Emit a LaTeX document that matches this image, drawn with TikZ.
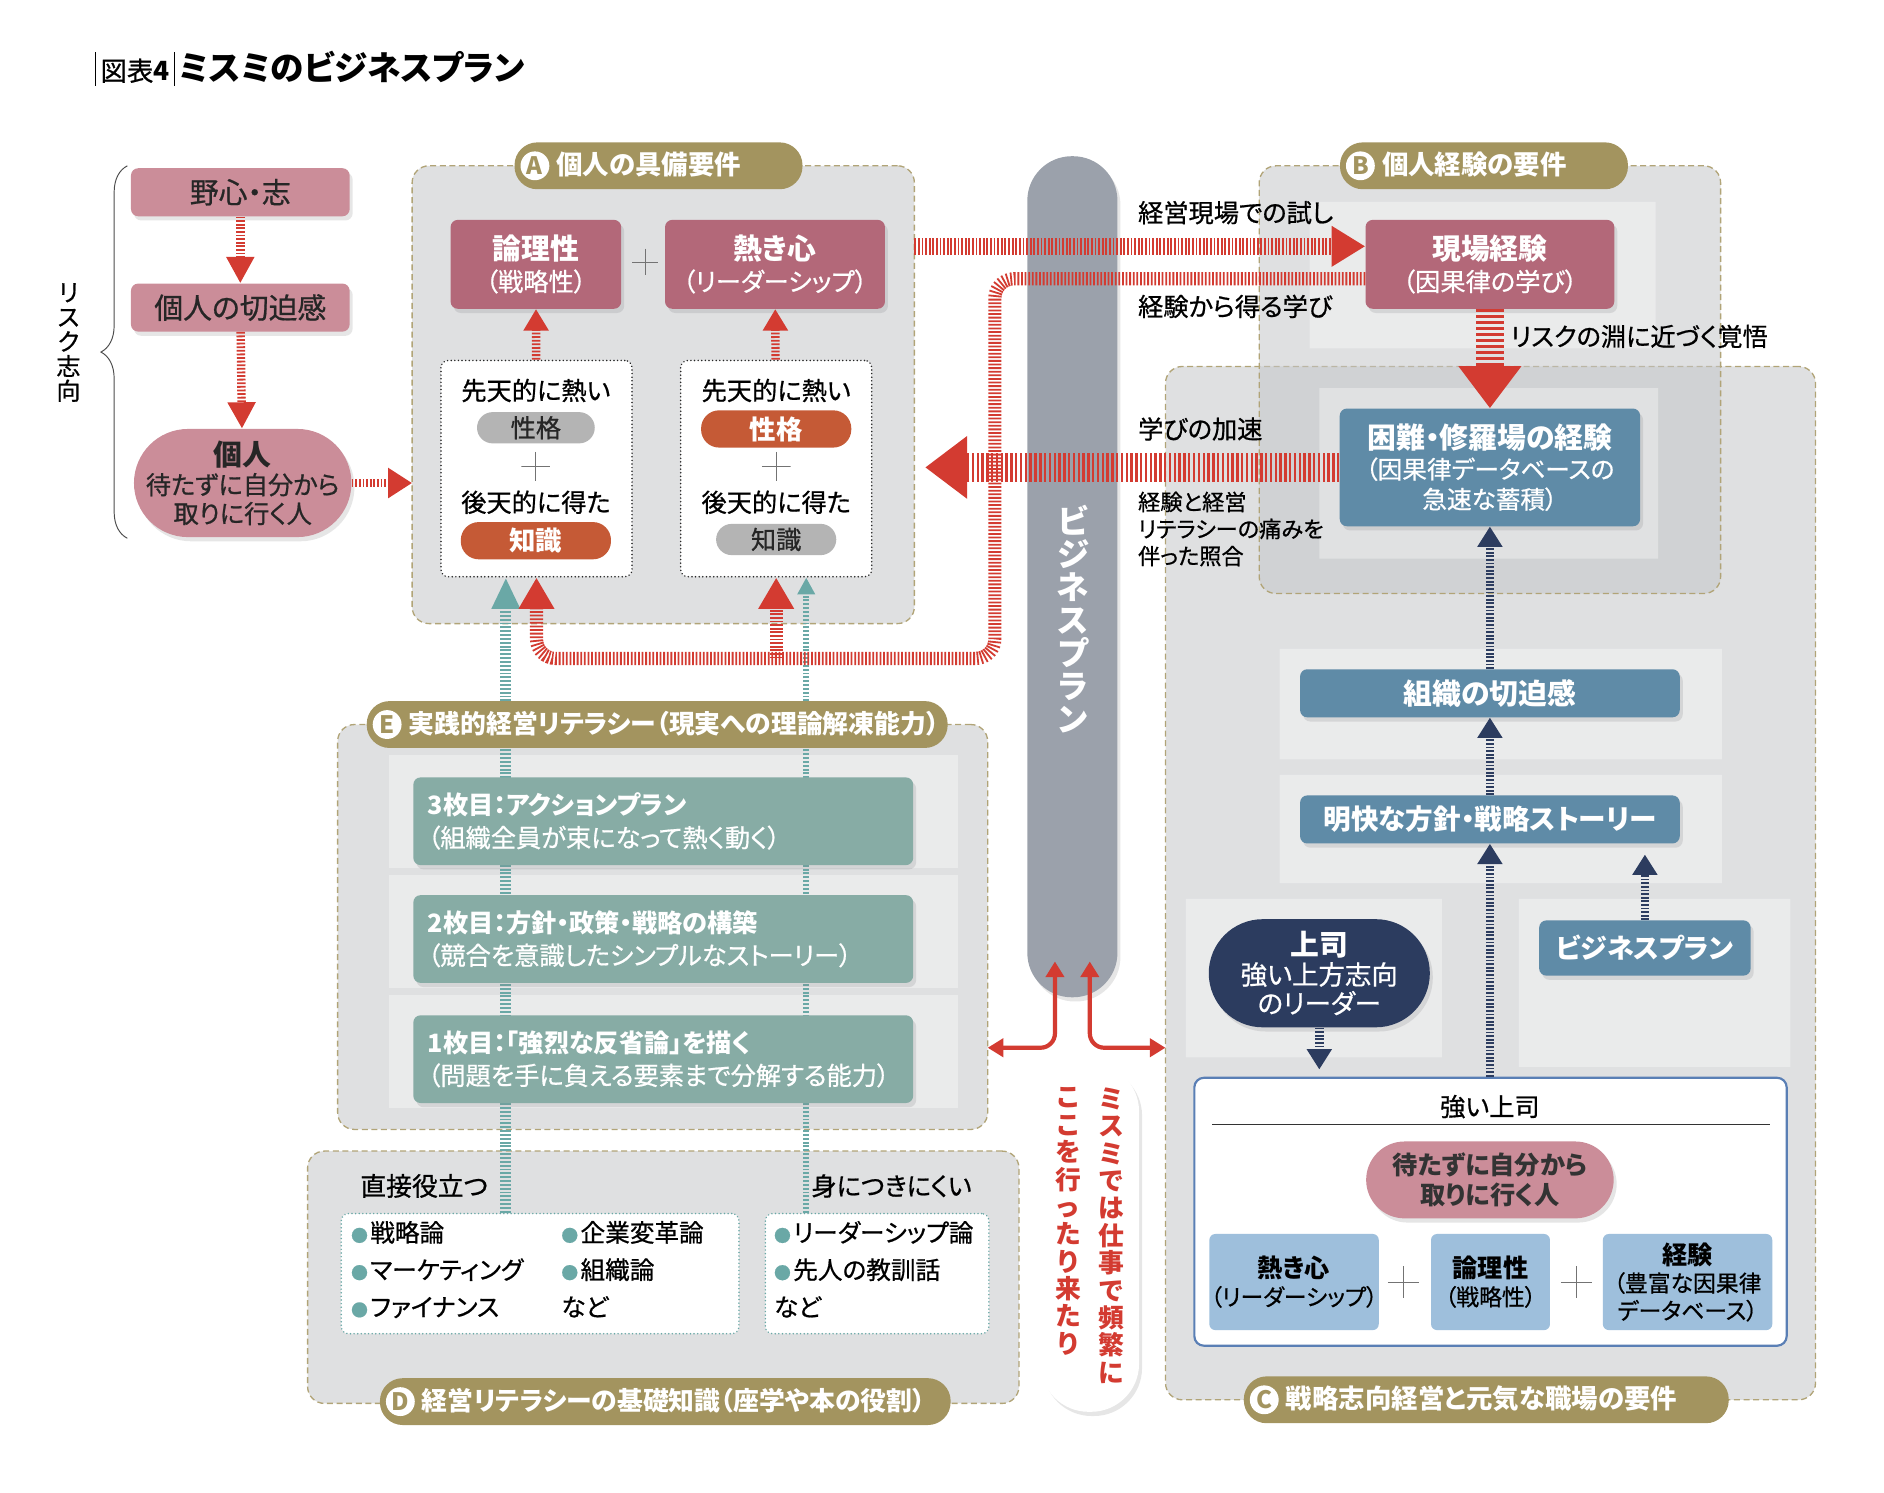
\documentclass[tikz,border=0pt]{standalone}
\usepackage{fontspec}
\setmainfont{Noto Sans CJK JP}[RawFeature=+palt, UprightFeatures={FakeBold=0.7}]
\usepackage{xcolor}
\usepackage{tikz}
\usetikzlibrary{positioning,arrows.meta,shadows,backgrounds,decorations.pathreplacing}
\definecolor{cpink}{HTML}{CB8D99}
\definecolor{crose}{HTML}{B36879}
\definecolor{colive}{HTML}{A3945F}
\definecolor{cbase}{HTML}{C4C6C9}
\definecolor{cpillar}{HTML}{9BA1AB}
\definecolor{csteel}{HTML}{5F8BA7}
\definecolor{cnavy}{HTML}{2C3C5F}
\definecolor{cteal}{HTML}{87ACA5}
\definecolor{csky}{HTML}{9EBFDC}
\definecolor{corange}{HTML}{C55A36}
\definecolor{cgrey}{HTML}{B4B4B4}
\definecolor{cred}{HTML}{D33B31}
\definecolor{cline}{HTML}{6AA8A6}
\definecolor{cframe}{HTML}{5A7FB5}
\newcommand{\badge}[1]{\tikz[baseline=(bd.base)]\node[circle,fill=white,text=colive,inner sep=0pt,minimum size=24pt,font=\fontsize{20}{20}\selectfont\bfseries] (bd) {#1};}
\newcommand{\bul}{{\fontsize{14}{14}\selectfont\textcolor{cline}{●}}\hspace{2pt}}

\begin{document}
\begin{tikzpicture}[x=1pt, y=-1pt,
  font=\fontsize{19}{23}\selectfont,
  shadowed/.style={drop shadow={shadow xshift=2.5pt, shadow yshift=-3.5pt, opacity=0.2}},
  panel/.style={draw=colive!85, dash pattern=on 5pt off 3pt, line width=1.1pt, fill=cbase, fill opacity=0.55, draw opacity=1, rounded corners=14pt, inner sep=0pt, outer sep=0pt},
  pill/.style={fill=colive, text=white, rounded corners=19pt, minimum height=39pt, inner xsep=5pt, inner ysep=0pt, anchor=west, font=\fontsize{22}{22}\selectfont\bfseries},
  pinkbox/.style={shadowed, fill=cpink, text=black!85, rounded corners=6pt, minimum width=182pt, minimum height=40pt, font=\fontsize{24}{26}\selectfont},
  rosebox/.style={shadowed, fill=crose, text=white, rounded corners=6pt, minimum height=74pt, align=center, inner sep=2pt, font=\fontsize{21}{26}\selectfont},
  steelbox/.style={shadowed, fill=csteel, text=white, rounded corners=6pt, align=center, inner sep=2pt, font=\fontsize{23}{26}\selectfont\bfseries},
  skybox/.style={fill=csky, rounded corners=5pt, minimum height=80pt, align=center, inner sep=1pt, font=\fontsize{19}{23}\selectfont},
  tealbox/.style={shadowed, fill=cteal, text=white, rounded corners=6pt, minimum height=73pt, text width=392pt, align=left, inner xsep=12pt, font=\fontsize{21}{27}\selectfont},
  oval/.style={shadowed, rounded corners=45pt, minimum height=90pt, align=center, inner sep=1pt},
  dotbox/.style={draw=black!85, line width=1.4pt, dash pattern=on 0.01pt off 3pt, line cap=round, fill=white, rounded corners=6pt, minimum width=159pt, minimum height=180pt},
  listbox/.style={draw=cline, line width=1.4pt, dash pattern=on 0.01pt off 3pt, line cap=round, fill=white, rounded corners=6pt, minimum height=100pt},
  listtxt/.style={anchor=north west, align=left, inner sep=0pt, font=\fontsize{20.5}{31}\selectfont},
  chip/.style={rounded corners=13pt, minimum height=26pt, inner ysep=0pt, font=\fontsize{21}{21}\selectfont},
  greychip/.style={chip, fill=cgrey, text=black!85},
  hotchip/.style={chip, fill=corange, text=white, minimum height=31pt, rounded corners=15pt, font=\fontsize{22}{22}\selectfont\bfseries},
  plus/.style={minimum size=24pt, inner sep=0pt, path picture={\draw[black!55, line width=0.7pt] (path picture bounding box.north) -- (path picture bounding box.south) (path picture bounding box.west) -- (path picture bounding box.east);}},
  note/.style={inner sep=1pt, font=\fontsize{21}{21}\selectfont},
  lab/.style={inner sep=1pt, anchor=west, font=\fontsize{21}{23}\selectfont},
  vtxt/.style={align=center, inner sep=0pt, anchor=north},
  stripe/.style={draw=cred, dash pattern=on 1.5pt off 1.5pt},
  redarr/.style={stripe, line width=7pt, -{Triangle[length=22pt,width=22pt]}},
  navyarr/.style={draw=cnavy, line width=7pt, dash pattern=on 1.5pt off 1.5pt, -{Triangle[length=17pt,width=20pt]}},
  tealarr/.style={draw=cline, dash pattern=on 1.6pt off 1.6pt},
  twoway/.style={draw=cred, line width=3.5pt, rounded corners=12pt, {Triangle[length=13pt,width=15pt]}-{Triangle[length=13pt,width=15pt]}}]
  \useasboundingbox (0,0) rectangle (1568,1242);
  % panels and their light inner patches
  \begin{scope}[on background layer]
    \node[panel, minimum width=541pt, minimum height=860pt] (boxC) at (1240.5,735) {};
    \node[panel, minimum width=384pt, minimum height=356pt] (boxB) at (1240,316) {};
    \node[panel, minimum width=418pt, minimum height=381pt] (boxA) at (552,328.5) {};
    \node[panel, minimum width=541pt, minimum height=337pt] (boxE) at (551.5,771.5) {};
    \node[panel, minimum width=592pt, minimum height=210pt] (boxD) at (552,1063) {};
    \fill[white, opacity=0.35] (1090,168) rectangle (1378,290) (1098,323) rectangle (1380,465)
      (1065,540) rectangle (1433,632) (1065,645) rectangle (1433,735)
      (987,748) rectangle (1200,880) (1264,748) rectangle (1490,888);
    \foreach \y in {628,728,828} \fill[white, opacity=0.35] (324,\y) rectangle (797,\y+94);
  \end{scope}
  % title
  \node[anchor=west, inner sep=0pt, font=\fontsize{22}{24}\selectfont] (title) at (79,57) {\rule[-4pt]{0.8pt}{28pt}\,図表\textbf{4}\,\rule[-4pt]{0.8pt}{28pt}\,{\fontsize{28}{28}\selectfont\bfseries ミスミのビジネスプラン}};
  % left column
  \node[pinkbox] (ambition) at (200,160) {野心・志};
  \node[pinkbox] (urgency) at (200,256) {個人の切迫感};
  \node[oval, fill=cpink, text=black!85, minimum width=181pt, font=\fontsize{21}{24}\selectfont] (person) at (202,402) {{\fontsize{24}{24}\selectfont\bfseries 個人}\\待たずに自分から\\取りに行く人};
  \draw[decorate, decoration={brace, amplitude=22pt}, black!70, line width=0.8pt] (106,448) -- (106,138);
  \node[vtxt, anchor=center, font=\fontsize{20}{20.5}\selectfont] (risk) at (57,285) {リ\\ス\\ク\\志\\向};
  % pills
  \node[pill] (pillA) at (428,138) {\badge{A}\hspace{6pt}個人の具備要件\hspace*{46pt}};
  \node[pill] (pillB) at (1115,138) {\badge{B}\hspace{6pt}個人経験の要件\hspace*{46pt}};
  \node[pill] (pillC) at (1035,1165) {\badge{C}\hspace{6pt}戦略志向経営と元気な職場の要件\hspace*{38pt}};
  \node[pill, font=\fontsize{21.5}{21.5}\selectfont\bfseries] (pillE) at (305,603) {\badge{E}\hspace{6pt}実践的経営リテラシー（現実への理論解凍能力）\hspace*{2pt}};
  \node[pill, font=\fontsize{21.5}{21.5}\selectfont\bfseries] (pillD) at (316,1166.5) {\badge{D}\hspace{6pt}経営リテラシーの基礎知識（座学や本の役割）\hspace*{16pt}};
  % A
  \node[rosebox, minimum width=142pt] (logic) at (446,220) {{\fontsize{24}{27}\selectfont\bfseries 論理性}\\（戦略性）};
  \node[plus, minimum size=22pt] (plusA) at (537,218) {};
  \node[rosebox, minimum width=183pt] (passion) at (645,220) {{\fontsize{24}{27}\selectfont\bfseries 熱き心}\\（リーダーシップ）};
  \node[dotbox] (innate1) at (446.5,390) {};
  \node[note] (born1) at (446,325) {先天的に熱い};
  \node[greychip, minimum width=98pt] (trait1) at (446,356) {性格};
  \node[plus] (plus1) at (446,388) {};
  \node[note] (learnt1) at (446,418) {後天的に得た};
  \node[hotchip, minimum width=125pt] (know1) at (446,450) {知識};
  \node[dotbox] (innate2) at (646,390) {};
  \node[note] (born2) at (646,325) {先天的に熱い};
  \node[hotchip, minimum width=125pt] (trait2) at (646,357) {性格};
  \node[plus] (plus2) at (646,388) {};
  \node[note] (learnt2) at (646,418) {後天的に得た};
  \node[greychip, minimum width=100pt] (know2) at (646,449) {知識};
  % business plan pillar
  \node[shadowed, fill=cpillar, rounded corners=37pt, minimum width=75pt, minimum height=700pt, inner sep=0pt] (bplan) at (892.5,480) {};
  \node[vtxt, anchor=center, text=white, font=\fontsize{27}{27.5}\selectfont\bfseries] (bplanlbl) at (893,515) {ビ\\ジ\\ネ\\ス\\プ\\ラ\\ン};
  % B
  \node[rosebox, minimum width=207pt] (genba) at (1240,220) {{\fontsize{24}{27}\selectfont\bfseries 現場経験}\\（因果律の学び）};
  \node[steelbox, minimum width=250pt, minimum height=98pt, font=\fontsize{20.5}{25}\selectfont] (konnan) at (1240,389) {{\fontsize{24}{27}\selectfont\bfseries 困難・修羅場の経験}\\（因果律データベースの\\急速な蓄積）};
  % C
  \node[steelbox, minimum width=316pt, minimum height=40pt, font=\fontsize{24}{26}\selectfont\bfseries] (orgurg) at (1240,577) {組織の切迫感};
  \node[steelbox, minimum width=316pt, minimum height=40pt] (story) at (1240,682) {明快な方針・戦略ストーリー};
  \node[oval, fill=cnavy, text=white, minimum width=184pt, font=\fontsize{22}{24}\selectfont] (boss) at (1098,810) {{\fontsize{24}{24}\selectfont\bfseries 上司}\\強い上方志向\\のリーダー};
  \node[steelbox, minimum width=176pt, minimum height=46pt, font=\fontsize{22.5}{26}\selectfont\bfseries] (bplan2) at (1369,789) {ビジネスプラン};
  \node[draw=cframe, line width=1.8pt, fill=white, rounded corners=8pt, minimum width=493pt, minimum height=223pt] (strongboss) at (1240.5,1008.5) {};
  \node[note] (sbtitle) at (1240,921) {強い上司};
  \draw[black!80, line width=0.7pt] ([xshift=16pt,yshift=-40pt]strongboss.north west) -- ([xshift=-15pt,yshift=-40pt]strongboss.north east);
  \node[oval, fill=cpink, text=black!80, rounded corners=32pt, minimum height=64pt, minimum width=206pt, font=\fontsize{21}{25}\selectfont\bfseries] (selfstart) at (1240,982) {待たずに自分から\\取りに行く人};
  \node[skybox, minimum width=140pt] (passion2) at (1077,1067) {{\fontsize{21}{25}\selectfont\bfseries 熱き心}\\（リーダーシップ）};
  \node[plus, minimum size=26pt] (plus3) at (1168,1067) {};
  \node[skybox, minimum width=99pt] (logic2) at (1240.5,1067) {{\fontsize{21}{25}\selectfont\bfseries 論理性}\\（戦略性）};
  \node[plus, minimum size=26pt] (plus4) at (1312,1067) {};
  \node[skybox, minimum width=141pt] (exp2) at (1404.5,1067) {{\fontsize{21}{25}\selectfont\bfseries 経験}\\（豊富な因果律\\データベース）};
  % E
  \node[tealbox] (sheet3) at (552,683.5) {{\bfseries 3枚目：アクションプラン}\\（組織全員が束になって熱く動く）};
  \node[tealbox] (sheet2) at (552,781.5) {{\bfseries 2枚目：方針・政策・戦略の構築}\\（競合を意識したシンプルなストーリー）};
  \node[tealbox] (sheet1) at (552,881.5) {{\bfseries 1枚目：「強烈な反省論」を描く}\\（問題を手に負える要素まで分解する能力）};
  % D
  \node[note, font=\fontsize{21.5}{21.5}\selectfont] (direct) at (353,987) {直接役立つ};
  \node[note] (hard) at (742,987) {身につきにくい};
  \node[listbox, minimum width=331pt] (dlist1) at (449.5,1060) {};
  \node[listbox, minimum width=186pt] (dlist2) at (730,1060) {};
  \node[listtxt] (items1) at (292,1016) {\bul 戦略論\\\bul マーケティング\\\bul ファイナンス};
  \node[listtxt] (items2) at (467,1016) {\bul 企業変革論\\\bul 組織論\\など};
  \node[listtxt] (items3) at (644,1016) {\bul リーダーシップ論\\\bul 先人の教訓話\\など};
  % callout
  \node[shadowed, fill=white, rounded corners=40pt, minimum width=82pt, minimum height=290pt] (bubble) at (907,1030) {};
  \coordinate (bubbletip) at (894,866);
  \fill[white] ([xshift=-22pt,yshift=-10pt]bubble.north) -- (bubbletip) -- ([xshift=-2pt]bubble.north) -- cycle;
  \node[vtxt, text=cred, font=\fontsize{21.5}{22.8}\selectfont\bfseries] (noteR) at (925,905) {ミ\\ス\\ミ\\で\\は\\仕\\事\\で\\頻\\繁\\に};
  \node[vtxt, text=cred, font=\fontsize{21.5}{22.8}\selectfont\bfseries] (noteL) at (889,905) {こ\\こ\\を\\行\\っ\\た\\り\\来\\た\\り};
  % labels by the pillar
  \node[lab] (trylbl) at (946,177) {経営現場での試し};
  \node[lab] (learnlbl) at (946,255) {経験から得る学び};
  \node[lab] (accellbl) at (946,357) {学びの加速};
  \node[lab, anchor=north west, align=left, font=\fontsize{18.5}{22.5}\selectfont] (painlbl) at (946,408) {経験と経営\\リテラシーの痛みを\\伴った照合};
  \node[lab] (risklbl) at (1256,280) {リスクの淵に近づく覚悟};
  % arrows, left and A
  \draw[redarr] (ambition) -- (urgency);
  \draw[redarr] (urgency) -- (person);
  \draw[redarr, line width=6pt, -{Triangle[length=20pt,width=24pt]}] (person.east) -- (person.east -| boxA.west);
  \draw[redarr, -{Triangle[length=18pt,width=20pt]}] (innate1) -- (logic);
  \draw[redarr, -{Triangle[length=18pt,width=20pt]}] (innate2) -- (passion);
  % red loops through the pillar
  \coordinate (trialin) at ([yshift=15pt]genba.west);
  \draw[stripe, line width=14pt, -{Triangle[length=28pt,width=32pt]}] (trialin -| boxA.east) -- (trialin);
  \coordinate (loopturn) at (828,548);
  \draw[stripe, line width=11pt, rounded corners=16pt, -{Triangle[length=26pt,width=28pt]}] ([yshift=-12pt]genba.west) -| (loopturn) -| (innate1.south);
  \draw[stripe, line width=11pt, -{Triangle[length=26pt,width=28pt]}] (innate2.south |- loopturn) -- (innate2.south);
  \path (boxA.east |- konnan.west) ++(9,0) coordinate (accelend);
  \draw[stripe, line width=24pt, dash pattern=on 2pt off 2pt, -{Triangle[length=35pt,width=50pt]}] (konnan.west) -- (accelend);
  \draw[stripe, line width=24pt, dash pattern=on 2.8pt off 2.2pt, -{Triangle[length=35pt,width=50pt]}] (genba) -- (konnan);
  % C
  \draw[navyarr] (orgurg) -- (konnan);
  \draw[navyarr] (story) -- (orgurg);
  \draw[navyarr] (strongboss.north -| story.south) -- (story.south);
  \draw[navyarr, shorten >=6pt] (boss) -- (boss.south |- strongboss.north);
  \draw[navyarr, shorten >=9pt] (bplan2) -- (bplan2.north |- story.south);
  % to and fro at the foot of the pillar
  \coordinate (hub) at (893,872);
  \draw[twoway] (boxE.east |- hub) -| ([xshift=-14.5pt,yshift=30pt]bplan.south);
  \draw[twoway] ([xshift=14.5pt,yshift=30pt]bplan.south) |- (boxC.west |- hub);
  % teal threads behind E
  \coordinate (tealL) at (421,0);
  \coordinate (tealR) at (671,0);
  \begin{scope}[on background layer]
    \draw[tealarr, line width=9pt, -{Triangle[length=26pt,width=22pt]}] (dlist1.north -| tealL) -- (innate1.south -| tealL);
    \draw[tealarr, line width=5pt, -{Triangle[length=14pt,width=14pt]}] (dlist2.north -| tealR) -- (innate2.south -| tealR);
  \end{scope}
\end{tikzpicture}
\end{document}
